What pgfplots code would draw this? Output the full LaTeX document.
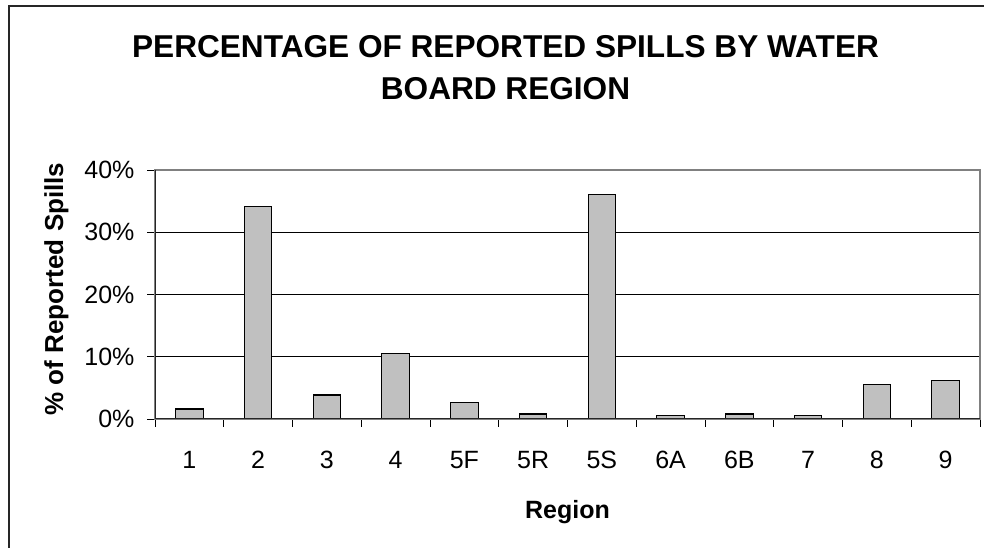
\documentclass[border=0pt]{standalone}
\usepackage{pgfplots}
\pgfplotsset{compat=1.18}
\usepackage{fontspec}
\setmainfont{Liberation Sans}
\definecolor{barfill}{RGB}{192,192,192}
\definecolor{framegray}{RGB}{128,128,128}
\begin{document}
\begin{tikzpicture}[x=1pt,y=1pt]
\path[use as bounding box] (0,0) rectangle (984,548);
\draw[line width=1.6pt, black!85] (9,0) -- (9,542) -- (984,542);
\node[font=\bfseries\fontsize{31.6}{40}\selectfont, anchor=base] at (505.5,490.5) {PERCENTAGE OF REPORTED SPILLS BY WATER};
\node[font=\bfseries\fontsize{31.6}{40}\selectfont, anchor=base] at (505.5,448.5) {BOARD REGION};
\begin{axis}[
  at={(155pt,129pt)}, anchor=south west,
  scale only axis, width=825pt, height=249pt,
  xmin=-0.5, xmax=11.5, ymin=0, ymax=40,
  xtick={-0.5,0.5,...,11.5},
  xticklabels={1,2,3,4,5F,5R,5S,6A,6B,7,8,9},
  x tick label as interval,
  ytick={0,10,20,30,40},
  yticklabels={0\%,10\%,20\%,30\%,40\%},
  ymajorgrids, grid style={black, line width=0.9pt},
  tick align=outside, major tick length=8pt,
  tick style={black, line width=0.9pt},
  xtick pos=bottom, ytick pos=left,
  axis line style={framegray, line width=1.2pt},
  ticklabel style={font=\fontsize{25}{25}\selectfont},
  xticklabel style={anchor=base, yshift=-42pt},
  yticklabel style={anchor=east, xshift=-9pt},
  xlabel={Region},
  xlabel style={font=\bfseries\fontsize{25}{25}\selectfont, at={(axis description cs:0.5,-0.3996)}, anchor=base},
  ylabel={\% of Reported Spills},
  ylabel style={font=\bfseries\fontsize{26}{26}\selectfont, at={(axis description cs:-0.1115,0.522)}, anchor=base, rotate=0},
]
\addplot[ybar, bar width=0.4, fill=barfill, draw=black, line width=1.2pt]
  coordinates {(0,1.6) (1,34.1) (2,3.85) (3,10.5) (4,2.6) (5,0.8) (6,36.0) (7,0.55) (8,0.8) (9,0.55) (10,5.6) (11,6.2)};
\draw[framegray, line width=1.2pt] (rel axis cs:0,1) -- (rel axis cs:1,1) -- (rel axis cs:1,0);
\draw[black!85, line width=1.3pt] (rel axis cs:0,1) -- (rel axis cs:0,0) -- (rel axis cs:1,0);
\end{axis}
\end{tikzpicture}
\end{document}
